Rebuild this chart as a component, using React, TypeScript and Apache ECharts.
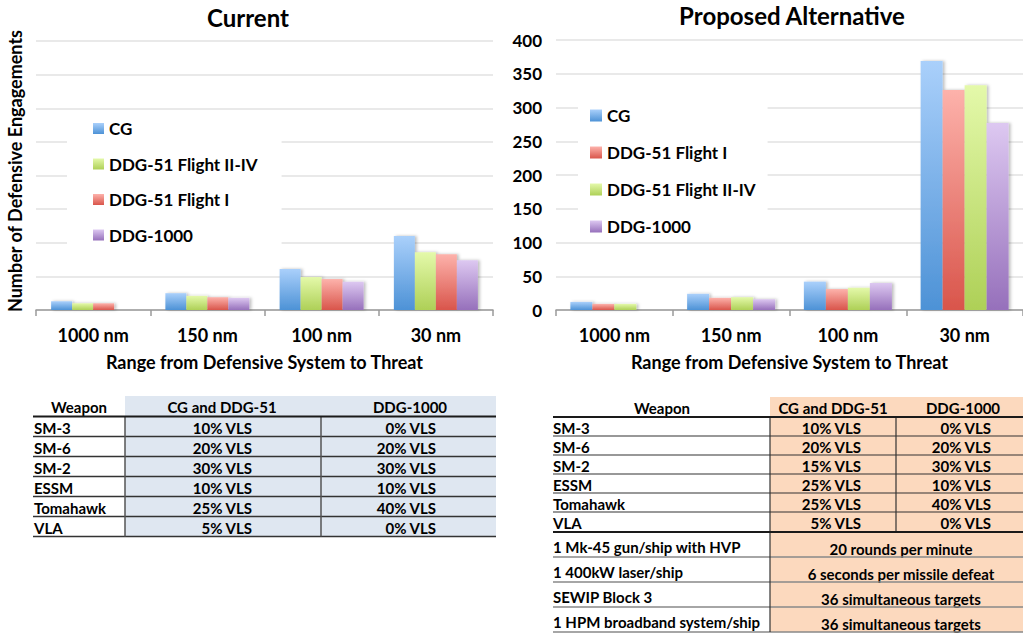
import React, { useEffect, useRef } from "react";
import * as echarts from "echarts";

const categories = ["1000 nm", "150 nm", "100 nm", "30 nm"];

// Current configuration (left chart)
const currentCG = [13, 25, 61, 110];
const currentFlight2to4 = [10, 21, 49, 86];
const currentFlight1 = [10, 19, 46, 83];
const currentDDG1000 = [null, 18, 42, 74];

// Proposed alternative (right chart)
const proposedCG = [12, 24, 42, 369];
const proposedFlight1 = [9, 18, 31, 326];
const proposedFlight2to4 = [9, 19, 33, 333];
const proposedDDG1000 = [null, 16, 40, 277];

const yTicks = { min: 0, max: 400, interval: 50 };

// Tables
const weapons = ["SM-3", "SM-6", "SM-2", "ESSM", "Tomahawk", "VLA"];
const currentCgDdg51 = ["10% VLS", "20% VLS", "30% VLS", "10% VLS", "25% VLS", "5% VLS"];
const currentDdg1000 = ["0% VLS", "20% VLS", "30% VLS", "10% VLS", "40% VLS", "0% VLS"];
const proposedCgDdg51 = ["10% VLS", "20% VLS", "15% VLS", "25% VLS", "25% VLS", "5% VLS"];
const proposedDdg1000 = ["0% VLS", "20% VLS", "30% VLS", "10% VLS", "40% VLS", "0% VLS"];
const newSystems = [
  "1 Mk-45 gun/ship with HVP",
  "1 400kW laser/ship",
  "SEWIP Block 3",
  "1 HPM broadband system/ship",
];
const newSystemRates = [
  "20 rounds per minute",
  "6 seconds per missile defeat",
  "36 simultaneous targets",
  "36 simultaneous targets",
];
const tableHeaders = ["Weapon", "CG and DDG-51", "DDG-1000"];

const FONT = 'Lato, "Open Sans", sans-serif';
const TS = 15; // table font size

const grad = (top: string, bottom: string) =>
  new echarts.graphic.LinearGradient(0, 0, 0, 1, [
    { offset: 0, color: top },
    { offset: 1, color: bottom },
  ]);

const COLORS: Record<string, [string, string]> = {
  CG: ["#aad0fb", "#4d92d6"],
  "DDG-51 Flight II-IV": ["#e4f9aa", "#aed057"],
  "DDG-51 Flight I": ["#fdb2ab", "#d9554b"],
  "DDG-1000": ["#ddc8f1", "#9670bb"],
};

function barSeries(name: string, data: (number | null)[], idx: number, width: number) {
  const [t, b] = COLORS[name];
  return {
    type: "bar",
    name,
    xAxisIndex: idx,
    yAxisIndex: idx,
    data,
    barWidth: width,
    barGap: "0%",
    itemStyle: {
      color: grad(t, b),
      shadowColor: "rgba(0,0,0,0.25)",
      shadowBlur: 3,
      shadowOffsetX: 2,
      shadowOffsetY: 0,
    },
  };
}

function txt(
  text: string,
  x: number,
  y: number,
  size: number,
  align: string = "center",
  extra: any = {}
) {
  return {
    type: "text",
    x,
    y,
    silent: true,
    ...extra,
    style: {
      text,
      fontFamily: FONT,
      fontWeight: "bold",
      fontSize: size,
      fill: "#000",
      align,
      verticalAlign: "middle",
    },
  };
}

function ln(x1: number, y1: number, x2: number, y2: number, stroke: string, w: number) {
  return {
    type: "line",
    silent: true,
    shape: { x1, y1, x2, y2 },
    style: { stroke, lineWidth: w },
  };
}

function leftTable() {
  const els: any[] = [];
  const x0 = 33, c1 = 125, c2 = 321, x1 = 496;
  const top = 396, hLine = 416.5, rowH = 20;
  const bottom = hLine + rowH * weapons.length;
  els.push({
    type: "rect",
    silent: true,
    shape: { x: c1, y: top, width: x1 - c1, height: bottom - top },
    style: { fill: "#dfe7f1" },
  });
  els.push(txt(tableHeaders[0], 79, 407, TS));
  els.push(txt(tableHeaders[1], 222, 407, TS));
  els.push(txt(tableHeaders[2], 410, 407, TS));
  weapons.forEach((w, i) => {
    const cy = 427.5 + rowH * i;
    els.push(txt(w, 34, cy, TS, "left"));
    els.push(txt(currentCgDdg51[i], 252, cy, TS, "right"));
    els.push(txt(currentDdg1000[i], 436, cy, TS, "right"));
    els.push(ln(x0, hLine + rowH * (i + 1), x1, hLine + rowH * (i + 1), "#333", 1.5));
  });
  els.push(ln(c1, hLine, c1, bottom, "#555", 1.5));
  els.push(ln(c2, hLine, c2, bottom, "#555", 1.5));
  els.push(ln(x0, hLine, x1, hLine, "#1a1a1a", 2));
  return els;
}

function rightTable() {
  const els: any[] = [];
  const x0 = 553, c1 = 770, c2 = 896, x1 = 1023;
  const top = 397, hLine = 417, rowH = 19, extraH = 25;
  const mid = hLine + rowH * weapons.length + 1;
  const bottom = mid + extraH * newSystems.length;
  els.push({
    type: "rect",
    silent: true,
    shape: { x: c1, y: top, width: x1 - c1, height: bottom - top },
    style: { fill: "#fcd9be" },
  });
  els.push(txt(tableHeaders[0], 662, 408, TS));
  els.push(txt(tableHeaders[1], 833, 408, TS));
  els.push(txt(tableHeaders[2], 963, 408, TS));
  weapons.forEach((w, i) => {
    const cy = 428 + rowH * i;
    els.push(txt(w, x0, cy, TS, "left"));
    els.push(txt(proposedCgDdg51[i], 861, cy, TS, "right"));
    els.push(txt(proposedDdg1000[i], 991, cy, TS, "right"));
    if (i < weapons.length - 1)
      els.push(ln(x0, hLine + rowH * (i + 1), x1, hLine + rowH * (i + 1), "#333", 1.2));
  });
  newSystems.forEach((s, j) => {
    els.push(txt(s, x0, mid + 15 + extraH * j, TS, "left"));
    els.push(txt(newSystemRates[j], 901, mid + 17 + extraH * j, TS, "center"));
    els.push(ln(x0, mid + extraH * (j + 1), x1, mid + extraH * (j + 1), "#888", 1.5));
  });
  els.push(ln(c1, hLine, c1, bottom, "#333", 1.2));
  els.push(ln(c2, hLine, c2, mid, "#333", 1.2));
  els.push(ln(x0, hLine, x1, hLine, "#1a1a1a", 2));
  els.push(ln(x0, mid, x1, mid, "#1a1a1a", 2));
  return els;
}

function xAxis(idx: number) {
  return {
    type: "category",
    gridIndex: idx,
    data: categories,
    axisLine: { lineStyle: { color: "#9a9a9a", width: 1.5 } },
    axisTick: { show: true, length: 6, lineStyle: { color: "#9a9a9a", width: 1.5 } },
    axisLabel: {
      fontFamily: FONT,
      fontWeight: "bold",
      fontSize: 18,
      color: "#000",
      margin: 16,
    },
    name: "Range from Defensive System to Threat",
    nameLocation: "middle",
    nameGap: 43,
    nameTextStyle: { fontFamily: FONT, fontWeight: "bold", fontSize: 18, color: "#000" },
  };
}

function yAxis(idx: number, showLabels: boolean) {
  return {
    type: "value",
    gridIndex: idx,
    min: yTicks.min,
    max: yTicks.max,
    interval: yTicks.interval,
    axisLine: { show: false },
    axisTick: { show: false },
    axisLabel: {
      show: showLabels,
      fontFamily: FONT,
      fontWeight: "bold",
      fontSize: 17,
      color: "#000",
      margin: 14,
    },
    splitLine: { lineStyle: { color: "#e2e2e2", width: 1.5 } },
  };
}

const legendText = { fontFamily: FONT, fontWeight: "bold", fontSize: 17, color: "#000", lineHeight: 16 };

export default function App() {
  const ref = useRef<HTMLDivElement>(null);
  useEffect(() => {
    document.body.style.margin = "0";
    if (!ref.current) return;
    const chart = echarts.init(ref.current, undefined, { renderer: "svg" });
    chart.setOption({
      animation: false,
      backgroundColor: "#fff",
      grid: [
        { left: 36, top: 41, width: 457, height: 269 },
        { left: 556, top: 40, width: 472, height: 270 },
      ],
      xAxis: [xAxis(0), xAxis(1)],
      yAxis: [yAxis(0, false), yAxis(1, true)],
      legend: [
        {
          orient: "vertical",
          left: 67,
          top: 111,
          padding: [9, 24, 7, 26],
          backgroundColor: "#fff",
          itemWidth: 11,
          itemHeight: 11,
          itemGap: 18.5,
          icon: "rect",
          selectedMode: false,
          textStyle: legendText,
          data: ["CG", "DDG-51 Flight II-IV", "DDG-51 Flight I", "DDG-1000"],
        },
        {
          orient: "vertical",
          left: 578,
          top: 95,
          padding: [12, 12, 7, 12],
          backgroundColor: "#fff",
          itemWidth: 12,
          itemHeight: 12,
          itemGap: 20,
          icon: "rect",
          selectedMode: false,
          textStyle: legendText,
          data: ["CG", "DDG-51 Flight I", "DDG-51 Flight II-IV", "DDG-1000"],
        },
      ],
      series: [
        barSeries("CG", currentCG, 0, 21),
        barSeries("DDG-51 Flight II-IV", currentFlight2to4, 0, 21),
        barSeries("DDG-51 Flight I", currentFlight1, 0, 21),
        barSeries("DDG-1000", currentDDG1000, 0, 21),
        barSeries("CG", proposedCG, 1, 22),
        barSeries("DDG-51 Flight I", proposedFlight1, 1, 22),
        barSeries("DDG-51 Flight II-IV", proposedFlight2to4, 1, 22),
        barSeries("DDG-1000", proposedDDG1000, 1, 22),
      ],
      graphic: [
        txt("Current", 248, 17, 24),
        txt("Proposed Alternative", 792, 15, 24),
        txt("Number of Defensive Engagements", 15, 171, 18, "center", { rotation: Math.PI / 2 }),
        ...leftTable(),
        ...rightTable(),
      ],
    });
    return () => chart.dispose();
  }, []);
  return <div ref={ref} style={{ width: 1023, height: 633 }} />;
}
